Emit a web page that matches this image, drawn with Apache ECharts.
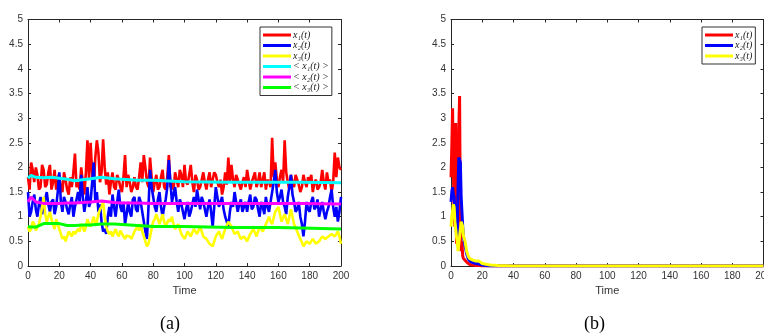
<!DOCTYPE html>
<html><head><meta charset="utf-8">
<script src="https://cdn.jsdelivr.net/npm/echarts@6/dist/echarts.min.js"></script>
<style>html,body{margin:0;padding:0;background:#fff}#c{width:764px;height:336px}</style>
</head><body><div id="c"></div>
<script>
// ---- Data: panel (a), time 0..200 step 1 ----
var timeA = [];
for (var k = 0; k <= 200; k++) timeA.push(k);
var x1A = [1.8,1.55,2.1,1.95,1.7,2.0,1.85,1.55,1.6,2.05,
1.95,1.6,1.65,1.9,2.05,1.55,1.7,1.95,1.55,1.8,
1.85,1.6,1.5,1.9,1.75,1.55,1.45,1.8,1.6,1.9,
2.28,1.6,1.7,1.55,2.0,1.7,1.45,1.9,2.55,1.75,
2.5,1.9,1.6,2.2,2.55,2.3,1.7,1.9,2.57,2.0,
1.65,1.9,1.45,1.7,1.9,1.6,1.55,1.85,1.75,1.6,
1.5,1.8,2.25,1.6,1.85,1.7,1.5,1.6,1.8,1.6,
1.55,1.8,2.1,1.7,2.25,2.0,1.7,1.6,2.2,1.8,
1.5,1.7,1.85,1.55,1.6,1.8,1.95,1.6,1.55,1.8,
2.25,1.6,1.7,1.55,1.9,1.75,1.6,1.95,1.85,1.6,
2.05,1.7,1.65,1.85,2.05,1.7,1.5,1.85,1.75,1.55,
1.6,1.75,1.9,1.7,1.55,1.75,1.9,1.6,1.75,1.9,
1.85,1.7,1.6,1.75,1.45,1.6,1.9,1.65,2.2,1.7,
2.05,1.75,1.6,1.85,1.75,1.65,1.55,1.7,1.8,1.6,
1.95,1.75,1.55,1.7,1.8,1.9,1.6,1.7,1.9,1.6,
1.75,1.9,1.55,1.75,1.7,1.6,2.6,1.8,2.1,1.75,
1.6,1.8,1.95,1.7,2.55,1.9,1.7,1.55,1.85,1.7,
1.6,1.85,1.75,1.65,1.5,1.6,1.85,1.7,1.6,1.8,
1.7,1.85,1.5,1.7,1.75,1.55,1.6,1.7,1.95,1.7,
1.55,1.9,1.7,1.75,1.5,1.7,2.3,1.8,2.2,2.0,1.95];
var x2A = [1.5,1.0,1.1,1.3,1.45,1.15,1.0,1.25,1.4,1.05,
1.2,1.35,1.5,1.25,1.1,1.3,1.35,1.05,1.2,1.5,
1.9,1.3,1.1,1.4,1.3,1.15,1.05,1.25,1.4,1.0,
1.2,1.35,1.5,1.3,1.85,1.4,1.1,1.3,1.6,1.2,
1.3,1.7,2.1,1.3,1.5,1.1,1.25,0.9,0.7,0.75,
0.65,1.0,1.2,1.0,1.45,1.2,1.0,1.3,1.55,1.2,
1.1,1.3,0.85,1.05,1.3,1.1,1.0,1.35,1.4,1.15,
1.1,1.4,1.3,1.1,0.9,0.7,0.55,1.2,1.95,1.6,
1.4,1.2,1.1,1.35,1.5,1.2,1.0,1.2,1.35,1.6,
2.15,1.7,1.3,1.45,1.6,1.3,1.1,1.35,1.25,1.1,
0.95,1.15,1.3,1.0,1.1,1.25,1.4,1.2,1.55,1.35,
1.15,1.4,1.3,1.15,1.0,1.2,1.35,1.1,0.8,1.2,
1.6,1.4,1.2,1.3,1.4,1.15,1.0,0.9,0.8,1.1,
1.3,1.2,1.5,1.3,1.1,1.25,1.35,1.1,1.2,1.3,
1.1,1.3,1.45,1.15,1.2,1.4,1.35,1.15,1.0,1.3,
1.2,1.05,1.4,1.2,1.1,1.3,1.5,1.7,1.95,1.5,
1.3,1.4,1.55,1.3,1.2,1.05,1.4,1.6,1.85,1.45,
1.3,1.1,1.15,1.3,1.0,0.85,0.6,0.9,1.3,1.15,
1.1,1.3,1.4,1.15,1.2,1.35,1.0,1.15,1.3,1.1,
0.95,1.1,1.2,1.4,1.55,1.2,1.0,1.2,0.9,1.1,1.4];
var x3A = [0.8,0.7,0.75,0.9,0.85,0.72,0.7,0.85,1.0,1.2,
1.4,1.05,0.9,1.0,1.1,0.95,0.85,0.75,0.95,0.85,
0.75,0.65,0.55,0.6,0.5,0.6,0.7,0.65,0.6,0.7,
0.65,0.7,0.75,0.7,0.85,0.8,0.7,0.8,0.95,0.85,
0.8,0.9,1.0,0.85,0.9,1.05,1.15,1.2,1.3,1.0,
0.8,0.7,0.65,0.7,0.6,0.68,0.75,0.65,0.6,0.72,
0.7,0.6,0.55,0.62,0.65,0.6,0.55,0.62,0.7,0.75,
0.8,0.72,0.85,0.7,0.6,0.5,0.4,0.45,0.6,0.75,
0.9,0.95,1.05,0.95,0.85,0.95,1.05,0.9,0.8,0.88,
0.95,0.9,1.0,0.85,0.75,0.8,0.85,0.75,0.65,0.6,
0.55,0.62,0.7,0.65,0.6,0.68,0.75,0.7,0.65,0.72,
0.8,0.7,0.6,0.62,0.55,0.5,0.45,0.42,0.4,0.5,
0.6,0.65,0.7,0.62,0.55,0.65,0.75,0.82,0.9,0.85,
0.8,0.72,0.65,0.68,0.7,0.62,0.55,0.58,0.6,0.55,
0.5,0.58,0.65,0.7,0.75,0.68,0.6,0.7,0.8,0.75,
0.7,0.78,0.85,0.92,1.0,0.9,0.85,0.98,1.1,1.15,
1.2,1.05,0.9,0.98,1.05,0.95,0.85,1.0,1.15,1.0,
0.85,0.78,0.7,0.62,0.55,0.48,0.4,0.45,0.5,0.48,
0.45,0.5,0.55,0.5,0.45,0.48,0.5,0.55,0.6,0.58,
0.55,0.58,0.6,0.62,0.65,0.62,0.6,0.65,0.7,0.6,0.45];
var timeMean = [0,2,3,5,10,15,20,25,30,35,40,47,55,60,70,80,100,130,160,175,200];
var m1A = [1.78,1.84,1.88,1.8,1.79,1.8,1.78,1.76,1.73,1.75,1.77,1.8,1.77,1.76,1.74,1.74,1.71,1.7,1.7,1.7,1.69];
var m2A = [1.3,1.4,1.36,1.3,1.27,1.27,1.27,1.28,1.28,1.29,1.3,1.32,1.29,1.28,1.28,1.27,1.27,1.27,1.27,1.27,1.26];
var m3A = [0.8,0.79,0.78,0.79,0.86,0.86,0.86,0.82,0.82,0.83,0.83,0.85,0.85,0.84,0.82,0.8,0.8,0.78,0.78,0.77,0.75];
// ---- Data: panel (b) ----
var timeB = [0,0.5,1,1.5,2,2.5,3,3.5,4,4.5,5,5.5,6,6.5,7,7.5,8,9,10,11,12,14,16,18,20,25,30,40,200];
var x1B = [1.8,2.4,3.2,2.0,1.0,0.8,2.9,0.45,2.2,0.6,2.8,3.45,0.9,0.3,0.5,0.2,0.15,0.12,0.08,0.05,0.03,0.02,0.01,0.01,0,0,0,0,0];
var x2B = [1.3,1.5,1.6,1.45,1.4,1.2,1.0,0.8,0.6,1.6,2.2,2.2,2.1,1.4,1.1,0.8,0.6,0.4,0.25,0.15,0.1,0.07,0.05,0.04,0.02,0,0,0,0];
var x3B = [0.8,1.0,1.0,1.25,1.2,0.9,0.75,0.6,0.5,0.3,0.45,0.6,0.75,0.9,0.88,0.8,0.6,0.5,0.3,0.2,0.15,0.12,0.1,0.1,0.05,0.02,0.01,0,0];
var xTicks = [0,200,20];
var yTicks = [0,5,0.5];

function pairs(t, v){ return t.map(function(x,i){ return [x, v[i]]; }); }

var names = {
  a1:'x₁(t)', a2:'x₂(t)', a3:'x₃(t)', am1:'< x₁(t) >', am2:'< x₂(t) >', am3:'< x₃(t) >',
  b1:'x₁(t)', b2:'x₂(t)', b3:'x₃(t)'
};
var axCol = '#262626';
function xAx(gi, pos, lab){
  return { type:'value', gridIndex:gi, position:pos, min:xTicks[0], max:xTicks[1], interval:xTicks[2],
    name: lab ? 'Time' : '', nameLocation:'middle', nameGap:19,
    nameTextStyle:{color:'#333', fontSize:11, fontFamily:'Liberation Sans'},
    axisLine:{show:true, onZero:false, lineStyle:{color:axCol, width:1}},
    axisTick:{show:true, inside:true, length:3, lineStyle:{color:axCol}},
    axisLabel:{show:lab, color:'#333', fontSize:10, margin:5, fontFamily:'Liberation Sans', hideOverlap:false},
    splitLine:{show:false} };
}
function yAx(gi, pos, lab){
  return { type:'value', gridIndex:gi, position:pos, min:yTicks[0], max:yTicks[1], interval:yTicks[2],
    axisLine:{show:true, onZero:false, lineStyle:{color:axCol, width:1}},
    axisTick:{show:true, inside:true, length:3, lineStyle:{color:axCol}},
    axisLabel:{show:lab, color:'#333', fontSize:10, margin:5, fontFamily:'Liberation Sans'},
    splitLine:{show:false} };
}
function ser(name, xi, yi, t, v, col, w){
  return { name:name, type:'line', xAxisIndex:xi, yAxisIndex:yi, data:pairs(t,v), showSymbol:false,
    symbol:'none', animation:false, lineStyle:{color:col, width:w}, itemStyle:{color:col} };
}
var legendStyle = {
  orient:'vertical', icon:'rect', itemWidth:28, itemHeight:3, itemGap:0.5,
  backgroundColor:'#fff', borderColor:'#333', borderWidth:1, borderRadius:0, padding:[3,3,3,3],
  textStyle:{fontFamily:'Liberation Serif', fontStyle:'italic', fontSize:10, color:'#222', padding:[0,0,0,-3]},
  formatter:function(n){ return names[n]; }, selectedMode:false
};
var chart = echarts.init(document.getElementById('c'), null, {renderer:'canvas'});
chart.setOption({
  animation:false,
  grid:[
    {left:28, top:19.5, width:313, height:246.5, outerBoundsMode:'none', containLabel:false},
    {left:451, top:19.5, width:312.5, height:246.5, outerBoundsMode:'none', containLabel:false}
  ],
  xAxis:[ xAx(0,'bottom',true), xAx(0,'top',false), xAx(1,'bottom',true), xAx(1,'top',false) ],
  yAxis:[ yAx(0,'left',true), yAx(0,'right',false), yAx(1,'left',true), yAx(1,'right',false) ],
  legend:[
    Object.assign({}, legendStyle, {left:260, top:27, data:['a1','a2','a3','am1','am2','am3']}),
    Object.assign({}, legendStyle, {left:702, top:27, data:['b1','b2','b3']})
  ],
  series:[
    ser('a1',0,0,timeA,x1A,'#ff0000',2.6),
    ser('a2',0,0,timeA,x2A,'#0000ff',2.6),
    ser('a3',0,0,timeA,x3A,'#ffff00',2.6),
    ser('am1',0,0,timeMean,m1A,'#00ffff',3),
    ser('am2',0,0,timeMean,m2A,'#ff00ff',3),
    ser('am3',0,0,timeMean,m3A,'#00ff00',3),
    ser('b1',2,2,timeB,x1B,'#ff0000',3),
    ser('b2',2,2,timeB,x2B,'#0000ff',3),
    ser('b3',2,2,timeB,x3B,'#ffff00',3)
  ],
  graphic:[
    {type:'text', left:160, top:315, style:{text:'(a)', fontFamily:'Liberation Serif', fontSize:18, fill:'#000'}},
    {type:'text', left:584, top:315, style:{text:'(b)', fontFamily:'Liberation Serif', fontSize:18, fill:'#000'}}
  ]
});
</script></body></html>
